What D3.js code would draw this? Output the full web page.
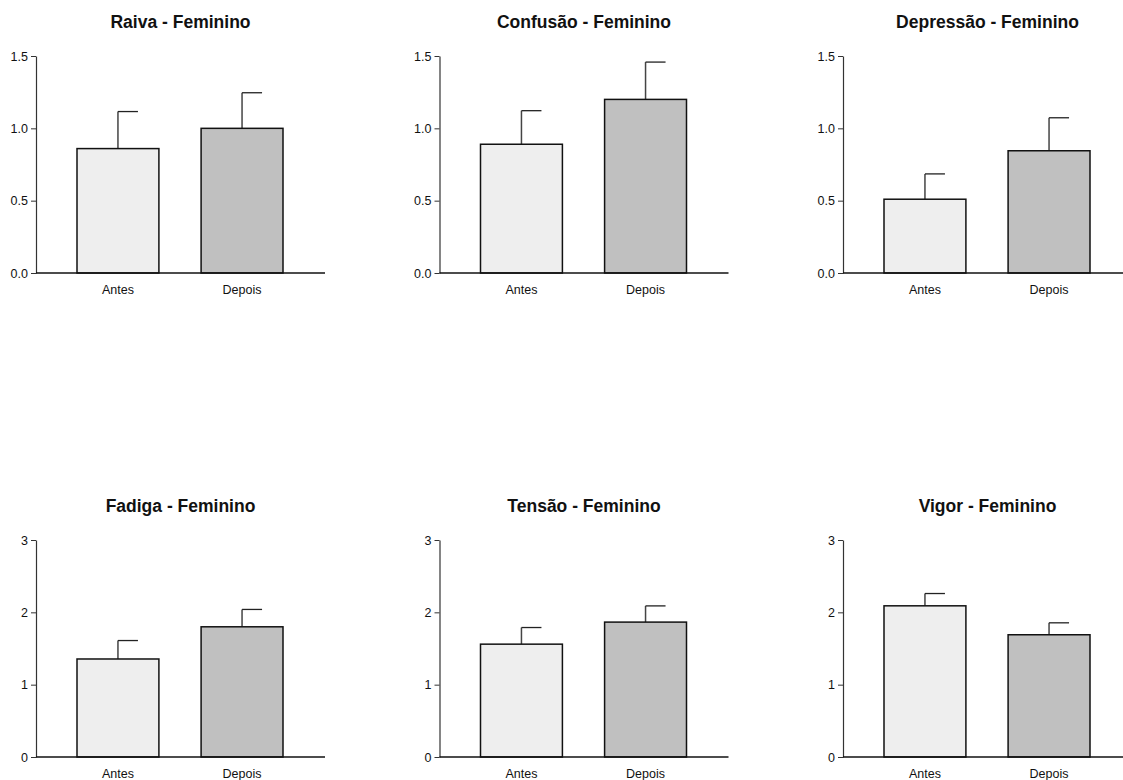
<!DOCTYPE html>
<html>
<head>
<meta charset="utf-8">
<script src="https://cdn.jsdelivr.net/npm/d3@7"></script>
<style>
  body { margin: 0; background: #fff; }
  svg text { font-family: "Liberation Sans", Arial, sans-serif; }
</style>
</head>
<body>
<script>
// data
var categories = ["Antes", "Depois"];
var titles = ["Raiva - Feminino", "Confusão - Feminino", "Depressão - Feminino",
              "Fadiga - Feminino", "Tensão - Feminino", "Vigor - Feminino"];
var means = [[0.86, 1.00], [0.89, 1.20], [0.51, 0.845],
             [1.355, 1.80], [1.56, 1.865], [2.09, 1.69]];
var errors = [[0.256, 0.246], [0.232, 0.258], [0.175, 0.228],
              [0.255, 0.24], [0.23, 0.224], [0.17, 0.165]];
var yMaxes = [1.5, 1.5, 1.5, 3, 3, 3];
var tickSets = [[0, 0.5, 1.0, 1.5], [0, 0.5, 1.0, 1.5], [0, 0.5, 1.0, 1.5],
                [0, 1, 2, 3], [0, 1, 2, 3], [0, 1, 2, 3]];
var tickFormats = [".1f", ".1f", ".1f", "d", "d", "d"];
var fills = ["#eeeeee", "#c0c0c0"];

/** drawPanel(svgEl, i, ox, oy)
 draws one small bar chart with half-cap error bars; (ox,oy) is the top of the y axis */
function drawPanel(svgEl, i, ox, oy){
    var w = 289, h = 217;
    var g = svgEl.append("g").attr("id", "panel_" + i)
        .attr("transform", "translate(" + ox + "," + oy + ")");

    var x = d3.scaleBand().domain(categories).range([41, 247]).paddingInner(0.34).paddingOuter(0);
    var y = d3.scaleLinear().domain([0, yMaxes[i]]).range([h, 0]);

    // title
    g.append("text")
        .attr("x", w / 2)
        .attr("y", -28)
        .attr("text-anchor", "middle")
        .attr("font-size", 17.5)
        .attr("font-weight", "bold")
        .attr("fill", "#111")
        .text(titles[i]);

    // y axis
    var yAxis = g.append("g")
        .call(d3.axisLeft(y).tickValues(tickSets[i]).tickFormat(d3.format(tickFormats[i]))
            .tickSize(5).tickSizeOuter(0).tickPadding(3));
    yAxis.select(".domain").attr("stroke", "#333").attr("stroke-width", 1.2);
    yAxis.selectAll(".tick line").attr("stroke", "#333");
    yAxis.selectAll(".tick text").attr("font-size", 12.5).attr("fill", "#111")
        .attr("font-family", "Liberation Sans, Arial, sans-serif");

    var rows = categories.map(function(c, k){
        return {cat: c, mean: means[i][k], err: errors[i][k], k: k};
    });

    // error bars (stem + cap on the right half)
    var eb = g.selectAll(".err").data(rows).enter().append("g").attr("class", "err");
    eb.append("line")
        .attr("x1", function(d){ return x(d.cat) + x.bandwidth() / 2; })
        .attr("x2", function(d){ return x(d.cat) + x.bandwidth() / 2; })
        .attr("y1", function(d){ return y(d.mean); })
        .attr("y2", function(d){ return y(d.mean + d.err); })
        .attr("stroke", "#444").attr("stroke-width", 1.5);
    eb.append("line")
        .attr("x1", function(d){ return x(d.cat) + x.bandwidth() / 2; })
        .attr("x2", function(d){ return x(d.cat) + x.bandwidth() / 2 + 20; })
        .attr("y1", function(d){ return y(d.mean + d.err); })
        .attr("y2", function(d){ return y(d.mean + d.err); })
        .attr("stroke", "#222").attr("stroke-width", 1.3);

    // bars
    g.selectAll(".bar").data(rows).enter().append("rect")
        .attr("class", "bar")
        .attr("x", function(d){ return x(d.cat); })
        .attr("y", function(d){ return y(d.mean); })
        .attr("width", x.bandwidth())
        .attr("height", function(d){ return h - y(d.mean); })
        .attr("fill", function(d){ return fills[d.k]; })
        .attr("stroke", "#111")
        .attr("stroke-width", 1.5);

    // x axis (no ticks)
    var xAxis = g.append("g")
        .attr("transform", "translate(0," + h + ")")
        .call(d3.axisBottom(x).tickSize(0).tickSizeOuter(0).tickPadding(12));
    xAxis.select(".domain").attr("d", "M0,0H" + w).attr("stroke", "#111").attr("stroke-width", 1.5);
    xAxis.selectAll(".tick text").attr("font-size", 12.5).attr("fill", "#111")
        .attr("font-family", "Liberation Sans, Arial, sans-serif");
}

function drawPanels(){
    var svgEl = d3.select("body").append("svg")
        .attr("width", 1123)
        .attr("height", 780);
    var xs = [36, 439.5, 843];
    var ys = [56, 540];
    for (var i = 0; i < 6; i++){
        drawPanel(svgEl, i, xs[i % 3], ys[Math.floor(i / 3)]);
    }
}

drawPanels();
</script>
</body>
</html>
